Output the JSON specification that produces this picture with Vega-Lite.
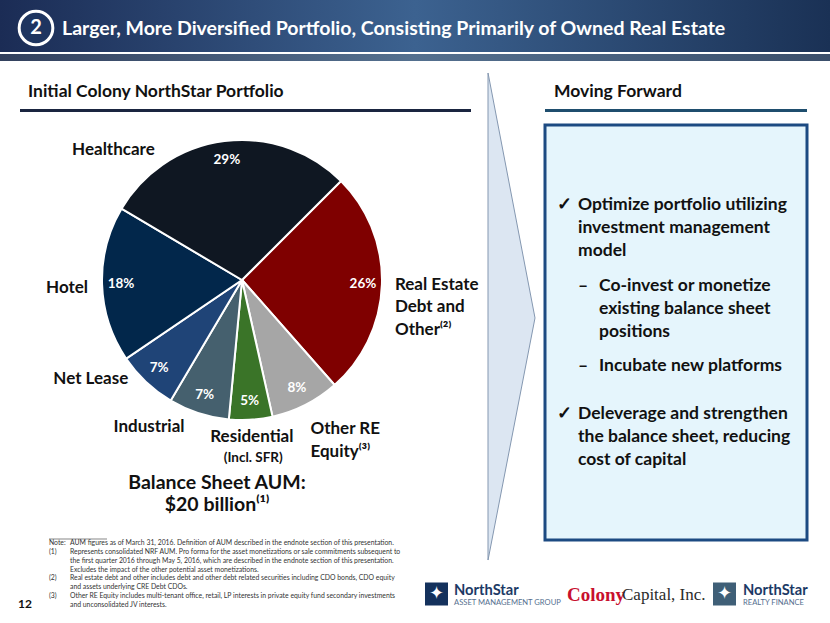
{"$schema":"https://vega.github.io/schema/vega-lite/v6.json","width":830,"height":623,"autosize":{"type":"none"},"padding":0,"background":"white","config":{"view":{"stroke":null},"text":{"font":"Lato"}},"resolve":{"scale":{"x":"independent","y":"independent","color":"independent"}},"datasets":{"one":[{"k":1}],"seg":[{"seg":"Real Estate","pct":26,"ord":1,"pctLabel":"26%","label":"Real Estate\nDebt and\nOther⁽²⁾"},{"seg":"Other RE","pct":8,"ord":2,"pctLabel":"8%","label":"Other RE\nEquity⁽³⁾"},{"seg":"Residential","pct":5,"ord":3,"pctLabel":"5%","label":"Residential"},{"seg":"Industrial","pct":7,"ord":4,"pctLabel":"7%","label":"Industrial"},{"seg":"Net Lease","pct":7,"ord":5,"pctLabel":"7%","label":"Net Lease"},{"seg":"Hotel","pct":18,"ord":6,"pctLabel":"18%","label":"Hotel"},{"seg":"Healthcare","pct":29,"ord":7,"pctLabel":"29%","label":"Healthcare"}]},"layer":[{"data":{"name":"one"},"mark":{"type":"rect","color":{"gradient":"linear","x1":0,"x2":1,"y1":0,"y2":0,"stops":[{"offset":0,"color":"#1b2c55"},{"offset":0.5,"color":"#3c6290"},{"offset":1,"color":"#1a3155"}]}},"encoding":{"x":{"datum":0,"scale":{"domain":[0,830],"range":[0,830]},"axis":null},"x2":{"datum":830},"y":{"datum":0,"scale":{"domain":[0,623],"range":[0,623]},"axis":null},"y2":{"datum":52}}},{"data":{"name":"one"},"mark":{"type":"rect","color":{"gradient":"linear","x1":0,"x2":1,"y1":0,"y2":0,"stops":[{"offset":0,"color":"#33415e"},{"offset":0.5,"color":"#54708f"},{"offset":1,"color":"#3b4f6b"}]}},"encoding":{"x":{"datum":0,"scale":{"domain":[0,830],"range":[0,830]},"axis":null},"x2":{"datum":830},"y":{"datum":54,"scale":{"domain":[0,623],"range":[0,623]},"axis":null},"y2":{"datum":61}}},{"data":{"values":[{"col":0}]},"mark":{"type":"point","filled":true,"fill":"#1e3560","stroke":"white","strokeWidth":3,"opacity":1,"size":1134},"encoding":{"x":{"field":"col","type":"quantitative","scale":{"domain":[0,1],"range":[36,62]},"axis":null},"y":{"datum":28,"scale":{"domain":[0,623],"range":[0,623]},"axis":null}}},{"data":{"values":[{"col":0,"txt":"2"}]},"mark":{"type":"text","color":"white","fontWeight":"bold","fontSize":20,"align":"center","baseline":"middle"},"encoding":{"x":{"field":"col","type":"quantitative","scale":{"domain":[0,1],"range":[36,62]},"axis":null},"y":{"datum":28,"scale":{"domain":[0,623],"range":[0,623]},"axis":null},"text":{"field":"txt"}}},{"data":{"values":[{"col":1,"txt":"Larger, More Diversified Portfolio, Consisting Primarily of Owned Real Estate"}]},"mark":{"type":"text","color":"white","fontWeight":"bold","fontSize":19.5,"align":"left","baseline":"middle"},"encoding":{"x":{"field":"col","type":"quantitative","scale":{"domain":[0,1],"range":[36,62]},"axis":null},"y":{"datum":29,"scale":{"domain":[0,623],"range":[0,623]},"axis":null},"text":{"field":"txt"}}},{"data":{"values":[{"col":0,"txt":"Initial Colony NorthStar Portfolio"},{"col":1,"txt":"Moving Forward"}]},"mark":{"type":"text","fontWeight":"bold","fontSize":17.5,"color":"#111111","align":"left","baseline":"middle"},"encoding":{"x":{"field":"col","type":"quantitative","scale":{"domain":[0,1],"range":[28,554]},"axis":null},"y":{"datum":92,"scale":{"domain":[0,623],"range":[0,623]},"axis":null},"text":{"field":"txt"}}},{"data":{"name":"one"},"mark":{"type":"rect","color":"#1a2540"},"encoding":{"x":{"datum":20,"scale":{"domain":[0,830],"range":[0,830]},"axis":null},"x2":{"datum":471},"y":{"datum":109,"scale":{"domain":[0,623],"range":[0,623]},"axis":null},"y2":{"datum":112}}},{"data":{"name":"one"},"mark":{"type":"rect","color":"#1f4e6e"},"encoding":{"x":{"datum":545,"scale":{"domain":[0,830],"range":[0,830]},"axis":null},"x2":{"datum":807},"y":{"datum":109,"scale":{"domain":[0,623],"range":[0,623]},"axis":null},"y2":{"datum":112}}},{"data":{"values":[{"along":0,"depth":0.001},{"along":0.503,"depth":1},{"along":1,"depth":0.001}]},"mark":{"type":"area","orient":"horizontal","line":false,"color":"#dce6f2","stroke":"#8497b0","strokeWidth":1},"encoding":{"x":{"field":"depth","type":"quantitative","stack":null,"scale":{"domain":[0,1],"range":[488,535]},"axis":null},"y":{"field":"along","type":"quantitative","scale":{"domain":[0,1],"range":[73,560]},"axis":null}}},{"data":{"name":"one"},"mark":{"type":"rect","color":"#e5f5fc","stroke":"#1c4a82","strokeWidth":3},"encoding":{"x":{"datum":545,"scale":{"domain":[0,830],"range":[0,830]},"axis":null},"x2":{"datum":807},"y":{"datum":125,"scale":{"domain":[0,623],"range":[0,623]},"axis":null},"y2":{"datum":540}}},{"data":{"values":[{"line":1,"level":0,"txt":"✓"},{"line":1,"level":1,"txt":"Optimize portfolio utilizing"},{"line":2,"level":1,"txt":"investment management"},{"line":3,"level":1,"txt":"model"},{"line":4.5,"level":1,"txt":"–"},{"line":4.5,"level":2,"txt":"Co-invest or monetize"},{"line":5.5,"level":2,"txt":"existing balance sheet"},{"line":6.5,"level":2,"txt":"positions"},{"line":8,"level":1,"txt":"–"},{"line":8,"level":2,"txt":"Incubate new platforms"},{"line":10.1,"level":0,"txt":"✓"},{"line":10.1,"level":1,"txt":"Deleverage and strengthen"},{"line":11.1,"level":1,"txt":"the balance sheet, reducing"},{"line":12.1,"level":1,"txt":"cost of capital"}]},"mark":{"type":"text","fontWeight":"bold","fontSize":17.5,"color":"#111111","align":"left","baseline":"middle"},"encoding":{"x":{"field":"level","type":"quantitative","scale":{"domain":[0,2],"range":[557,599]},"axis":null},"y":{"field":"line","type":"quantitative","scale":{"domain":[1,12.1],"range":[205,460.3]},"axis":null},"text":{"field":"txt"}}},{"data":{"name":"seg"},"mark":{"type":"arc","outerRadius":140,"stroke":"white","strokeWidth":2},"encoding":{"x":{"datum":242,"scale":{"domain":[0,830],"range":[0,830]},"axis":null},"y":{"datum":280,"scale":{"domain":[0,623],"range":[0,623]},"axis":null},"theta":{"field":"pct","type":"quantitative","stack":true,"scale":{"domain":[0,100],"range":[0.7854,7.0686]}},"order":{"field":"ord","type":"quantitative"},"color":{"field":"seg","type":"nominal","legend":null,"scale":{"domain":["Real Estate","Other RE","Residential","Industrial","Net Lease","Hotel","Healthcare"],"range":["#7f0000","#a6a6a6","#3a7428","#45606e","#1f4477","#02274b","#0f1722"]}}}},{"data":{"name":"seg"},"mark":{"type":"text","radius":121,"color":"white","fontWeight":"bold","fontSize":13.5,"align":"center","baseline":"middle"},"encoding":{"x":{"datum":242,"scale":{"domain":[0,830],"range":[0,830]},"axis":null},"y":{"datum":280,"scale":{"domain":[0,623],"range":[0,623]},"axis":null},"theta":{"field":"pct","type":"quantitative","stack":true,"scale":{"domain":[0,100],"range":[0.7854,7.0686]}},"order":{"field":"ord","type":"quantitative"},"detail":{"field":"seg"},"text":{"field":"pctLabel"}}},{"data":{"name":"seg"},"mark":{"type":"text","radius":153,"color":"#111111","fontWeight":"bold","fontSize":17,"align":"left","baseline":"middle","lineBreak":"\n","lineHeight":22.5},"encoding":{"x":{"datum":242,"scale":{"domain":[0,830],"range":[0,830]},"axis":null},"y":{"datum":280,"scale":{"domain":[0,623],"range":[0,623]},"axis":null},"theta":{"field":"pct","type":"quantitative","stack":true,"scale":{"domain":[0,100],"range":[0.7854,7.0686]}},"order":{"field":"ord","type":"quantitative"},"detail":{"field":"seg"},"text":{"condition":{"test":"datum.seg==='Real Estate'","field":"label"},"value":""}}},{"data":{"name":"seg"},"mark":{"type":"text","radius":164,"dx":-6,"dy":3,"color":"#111111","fontWeight":"bold","fontSize":17,"align":"left","baseline":"middle","lineBreak":"\n","lineHeight":23},"encoding":{"x":{"datum":242,"scale":{"domain":[0,830],"range":[0,830]},"axis":null},"y":{"datum":280,"scale":{"domain":[0,623],"range":[0,623]},"axis":null},"theta":{"field":"pct","type":"quantitative","stack":true,"scale":{"domain":[0,100],"range":[0.7854,7.0686]}},"order":{"field":"ord","type":"quantitative"},"detail":{"field":"seg"},"text":{"condition":{"test":"datum.seg==='Other RE'","field":"label"},"value":""}}},{"data":{"name":"seg"},"mark":{"type":"text","radius":157,"color":"#111111","fontWeight":"bold","fontSize":17,"align":"center","baseline":"middle"},"encoding":{"x":{"datum":242,"scale":{"domain":[0,830],"range":[0,830]},"axis":null},"y":{"datum":280,"scale":{"domain":[0,623],"range":[0,623]},"axis":null},"theta":{"field":"pct","type":"quantitative","stack":true,"scale":{"domain":[0,100],"range":[0.7854,7.0686]}},"order":{"field":"ord","type":"quantitative"},"detail":{"field":"seg"},"text":{"condition":{"test":"datum.seg==='Residential'","field":"label"},"value":""}}},{"data":{"name":"seg"},"mark":{"type":"text","radius":178,"color":"#111111","fontWeight":"bold","fontSize":13.5,"align":"center","baseline":"middle"},"encoding":{"x":{"datum":242,"scale":{"domain":[0,830],"range":[0,830]},"axis":null},"y":{"datum":280,"scale":{"domain":[0,623],"range":[0,623]},"axis":null},"theta":{"field":"pct","type":"quantitative","stack":true,"scale":{"domain":[0,100],"range":[0.7854,7.0686]}},"order":{"field":"ord","type":"quantitative"},"detail":{"field":"seg"},"text":{"condition":{"test":"datum.seg==='Residential'","value":"(Incl. SFR)"},"value":""}}},{"data":{"name":"seg"},"mark":{"type":"text","radius":165,"dx":-42,"dy":-10,"color":"#111111","fontWeight":"bold","fontSize":17,"align":"center","baseline":"middle"},"encoding":{"x":{"datum":242,"scale":{"domain":[0,830],"range":[0,830]},"axis":null},"y":{"datum":280,"scale":{"domain":[0,623],"range":[0,623]},"axis":null},"theta":{"field":"pct","type":"quantitative","stack":true,"scale":{"domain":[0,100],"range":[0.7854,7.0686]}},"order":{"field":"ord","type":"quantitative"},"detail":{"field":"seg"},"text":{"condition":{"test":"datum.seg==='Industrial'","field":"label"},"value":""}}},{"data":{"name":"seg"},"mark":{"type":"text","radius":180,"dx":-28,"dy":-32,"color":"#111111","fontWeight":"bold","fontSize":17,"align":"center","baseline":"middle"},"encoding":{"x":{"datum":242,"scale":{"domain":[0,830],"range":[0,830]},"axis":null},"y":{"datum":280,"scale":{"domain":[0,623],"range":[0,623]},"axis":null},"theta":{"field":"pct","type":"quantitative","stack":true,"scale":{"domain":[0,100],"range":[0.7854,7.0686]}},"order":{"field":"ord","type":"quantitative"},"detail":{"field":"seg"},"text":{"condition":{"test":"datum.seg==='Net Lease'","field":"label"},"value":""}}},{"data":{"name":"seg"},"mark":{"type":"text","radius":175,"dy":2.5,"color":"#111111","fontWeight":"bold","fontSize":17,"align":"center","baseline":"middle"},"encoding":{"x":{"datum":242,"scale":{"domain":[0,830],"range":[0,830]},"axis":null},"y":{"datum":280,"scale":{"domain":[0,623],"range":[0,623]},"axis":null},"theta":{"field":"pct","type":"quantitative","stack":true,"scale":{"domain":[0,100],"range":[0.7854,7.0686]}},"order":{"field":"ord","type":"quantitative"},"detail":{"field":"seg"},"text":{"condition":{"test":"datum.seg==='Hotel'","field":"label"},"value":""}}},{"data":{"name":"seg"},"mark":{"type":"text","radius":148,"dx":-110,"dy":17,"color":"#111111","fontWeight":"bold","fontSize":17,"align":"center","baseline":"middle"},"encoding":{"x":{"datum":242,"scale":{"domain":[0,830],"range":[0,830]},"axis":null},"y":{"datum":280,"scale":{"domain":[0,623],"range":[0,623]},"axis":null},"theta":{"field":"pct","type":"quantitative","stack":true,"scale":{"domain":[0,100],"range":[0.7854,7.0686]}},"order":{"field":"ord","type":"quantitative"},"detail":{"field":"seg"},"text":{"condition":{"test":"datum.seg==='Healthcare'","field":"label"},"value":""}}},{"data":{"values":[{"line":1,"txt":"Balance Sheet AUM:"},{"line":2,"txt":"$20 billion⁽¹⁾"}]},"mark":{"type":"text","fontWeight":"bold","fontSize":19.5,"color":"#111111","align":"center","baseline":"middle"},"encoding":{"x":{"datum":217,"scale":{"domain":[0,830],"range":[0,830]},"axis":null},"y":{"field":"line","type":"quantitative","scale":{"domain":[1,2],"range":[483,505]},"axis":null},"text":{"field":"txt"}}},{"data":{"name":"one"},"mark":{"type":"rule","color":"#555555","strokeWidth":0.7},"encoding":{"x":{"datum":49,"scale":{"domain":[0,830],"range":[0,830]},"axis":null},"x2":{"datum":107},"y":{"datum":539,"scale":{"domain":[0,623],"range":[0,623]},"axis":null}}},{"data":{"values":[{"line":1,"col":0,"txt":"Note:"},{"line":1,"col":1,"txt":"AUM figures as of March 31, 2016. Definition of AUM described in the endnote section of this presentation."},{"line":2,"col":0,"txt":"(1)"},{"line":2,"col":1,"txt":"Represents consolidated NRF AUM. Pro forma for the asset monetizations or sale commitments subsequent to"},{"line":3,"col":1,"txt":"the first quarter 2016 through May 5, 2016, which are described in the endnote section of this presentation."},{"line":4,"col":1,"txt":"Excludes the impact of the other potential asset monetizations."},{"line":5,"col":0,"txt":"(2)"},{"line":5,"col":1,"txt":"Real estate debt and other includes debt and other debt related securities including CDO bonds, CDO equity"},{"line":6,"col":1,"txt":"and assets underlying CRE Debt CDOs."},{"line":7,"col":0,"txt":"(3)"},{"line":7,"col":1,"txt":"Other RE Equity includes multi-tenant office, retail, LP interests in private equity fund secondary investments"},{"line":8,"col":1,"txt":"and unconsolidated JV interests."}]},"mark":{"type":"text","fontSize":6.85,"color":"#333333","align":"left","baseline":"middle"},"encoding":{"x":{"field":"col","type":"quantitative","scale":{"domain":[0,1],"range":[49,70]},"axis":null},"y":{"field":"line","type":"quantitative","scale":{"domain":[1,8],"range":[543,605]},"axis":null},"text":{"field":"txt"}}},{"data":{"values":[{"txt":"12"}]},"mark":{"type":"text","fontWeight":"bold","fontSize":12,"color":"#111111","align":"center","baseline":"middle"},"encoding":{"x":{"datum":25,"scale":{"domain":[0,830],"range":[0,830]},"axis":null},"y":{"datum":604,"scale":{"domain":[0,623],"range":[0,623]},"axis":null},"text":{"field":"txt"}}},{"data":{"values":[{"logo":0,"c":"a"},{"logo":1,"c":"b"}]},"mark":{"type":"square","size":529,"opacity":1},"encoding":{"x":{"field":"logo","type":"quantitative","scale":{"domain":[0,1],"range":[436.5,724.5]},"axis":null},"y":{"datum":594,"scale":{"domain":[0,623],"range":[0,623]},"axis":null},"color":{"field":"c","legend":null,"scale":{"domain":["a","b"],"range":["#14315c","#3f5f77"]}}}},{"data":{"values":[{"logo":0,"txt":"✦"},{"logo":1,"txt":"✦"}]},"mark":{"type":"text","color":"white","fontSize":18,"align":"center","baseline":"middle","font":"DejaVu Sans"},"encoding":{"x":{"field":"logo","type":"quantitative","scale":{"domain":[0,1],"range":[436.5,724.5]},"axis":null},"y":{"datum":594,"scale":{"domain":[0,623],"range":[0,623]},"axis":null},"text":{"field":"txt"}}},{"data":{"values":[{"logo":0,"txt":"NorthStar"},{"logo":1,"txt":"NorthStar"}]},"mark":{"type":"text","color":"#1c3a66","fontWeight":"bold","fontSize":14.7,"align":"left","baseline":"middle"},"encoding":{"x":{"field":"logo","type":"quantitative","scale":{"domain":[0,1],"range":[454,743]},"axis":null},"y":{"datum":591,"scale":{"domain":[0,623],"range":[0,623]},"axis":null},"text":{"field":"txt"}}},{"data":{"values":[{"logo":0,"txt":"ASSET MANAGEMENT GROUP"},{"logo":1,"txt":"REALTY FINANCE"}]},"mark":{"type":"text","color":"#56708f","fontSize":7.6,"align":"left","baseline":"middle"},"encoding":{"x":{"field":"logo","type":"quantitative","scale":{"domain":[0,1],"range":[454,743]},"axis":null},"y":{"datum":603,"scale":{"domain":[0,623],"range":[0,623]},"axis":null},"text":{"field":"txt"}}},{"data":{"values":[{"txt":"Colony"}]},"mark":{"type":"text","color":"#c8102e","fontWeight":"bold","font":"Liberation Serif","fontSize":19,"align":"left","baseline":"middle"},"encoding":{"x":{"datum":567,"scale":{"domain":[0,830],"range":[0,830]},"axis":null},"y":{"datum":595,"scale":{"domain":[0,623],"range":[0,623]},"axis":null},"text":{"field":"txt"}}},{"data":{"values":[{"txt":"Capital, Inc."}]},"mark":{"type":"text","color":"#2b2b2b","font":"Liberation Serif","fontSize":17,"align":"left","baseline":"middle"},"encoding":{"x":{"datum":622,"scale":{"domain":[0,830],"range":[0,830]},"axis":null},"y":{"datum":595,"scale":{"domain":[0,623],"range":[0,623]},"axis":null},"text":{"field":"txt"}}}]}
